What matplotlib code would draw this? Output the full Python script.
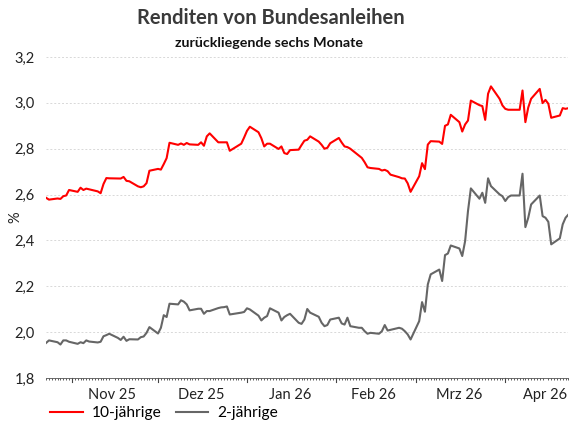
import matplotlib

matplotlib.use("Agg")
import matplotlib.dates as mdates
import matplotlib.pyplot as plt
import matplotlib.ticker as mticker
import pandas as pd

# business days, 23 Oct 2025 .. 23 Apr 2026
dates = pd.bdate_range("2025-10-23", "2026-04-23")

yield_10y = [
    2.586, 2.578, 2.583, 2.581, 2.593, 2.596, 2.620, 2.612, 2.630, 2.620,
    2.626, 2.623, 2.614, 2.606, 2.646, 2.672, 2.671, 2.670, 2.670, 2.677,
    2.660, 2.658, 2.636, 2.632, 2.636, 2.650, 2.704, 2.712, 2.709, 2.733,
    2.759, 2.826, 2.817, 2.823, 2.817, 2.825, 2.819, 2.817, 2.828, 2.813,
    2.854, 2.867, 2.828, 2.828, 2.828, 2.828, 2.791, 2.814, 2.822, 2.849,
    2.878, 2.896, 2.872, 2.846, 2.810, 2.822, 2.822, 2.799, 2.810, 2.781,
    2.777, 2.794, 2.796, 2.816, 2.835, 2.839, 2.854,
    2.831, 2.817, 2.800, 2.804, 2.824, 2.847, 2.827, 2.810, 2.807, 2.800,
    2.770, 2.760, 2.741, 2.719, 2.716, 2.712, 2.705, 2.708, 2.702, 2.687,
    2.676, 2.671, 2.670, 2.649, 2.612, 2.680, 2.737, 2.711, 2.818, 2.833,
    2.831, 2.821, 2.900, 2.906, 2.948, 2.916, 2.875, 2.906, 2.923, 3.010,
    2.990, 2.986, 2.926, 3.040, 3.072, 3.018, 2.989, 2.974, 2.970, 2.970,
    2.970, 3.054, 2.916, 2.980, 3.018, 3.061, 2.999, 3.013, 2.996, 2.935,
    2.945, 2.977, 2.974, 2.977,
]

yield_2y = [
    1.953, 1.964, 1.956, 1.946, 1.964, 1.964, 1.958, 1.949, 1.956, 1.952,
    1.964, 1.959, 1.955, 1.958, 1.982, 1.987, 1.993, 1.975, 1.966, 1.980,
    1.962, 1.969, 1.968, 1.978, 1.981, 1.997, 2.022, 1.994, 2.019, 2.074,
    2.066, 2.124, 2.121, 2.139, 2.133, 2.121, 2.095, 2.102, 2.102, 2.080,
    2.092, 2.092, 2.105, 2.108, 2.109, 2.112, 2.077, 2.083, 2.085, 2.088,
    2.104, 2.099, 2.072, 2.051, 2.063, 2.070, 2.104, 2.085, 2.051, 2.066,
    2.074, 2.080, 2.041, 2.036, 2.055, 2.101, 2.085,
    2.067, 2.041, 2.026, 2.031, 2.055, 2.063, 2.038, 2.033, 2.063, 2.026,
    2.019, 2.019, 2.004, 1.993, 1.997, 1.993, 2.004, 2.031, 2.007, 2.010,
    2.019, 2.015, 2.004, 1.990, 1.968, 2.048, 2.131, 2.089, 2.208, 2.252,
    2.273, 2.223, 2.336, 2.343, 2.378, 2.365, 2.332, 2.397, 2.528, 2.627,
    2.582, 2.608, 2.564, 2.671, 2.637, 2.601, 2.593, 2.572, 2.589, 2.596,
    2.596, 2.691, 2.458, 2.499, 2.557, 2.596, 2.506, 2.499, 2.481, 2.383,
    2.409, 2.470, 2.499, 2.513,
]

series_labels = ["10-jährige", "2-jährige"]
month_labels = ["Nov 25", "Dez 25", "Jan 26", "Feb 26", "Mrz 26", "Apr 26"]
label_dates = pd.to_datetime(
    ["2025-11-15", "2025-12-16", "2026-01-16", "2026-02-14", "2026-03-16", "2026-04-15"]
)

plt.rcParams["font.family"] = ["Lato", "DejaVu Sans"]

fig = plt.figure(figsize=(5.69, 4.24), dpi=100)
ax = fig.add_axes([0.081, 0.1085, 0.918, 0.757])

ax.plot(dates, yield_10y, color="#ff0000", lw=1.5, label=series_labels[0])
ax.plot(dates, yield_2y, color="#666666", lw=1.5, label=series_labels[1])

ax.set_xlim(dates[0], dates[-1])
ax.set_ylim(1.8, 3.2)
ax.yaxis.set_major_locator(mticker.MultipleLocator(0.2))
ax.yaxis.set_major_formatter(
    mticker.FuncFormatter(lambda v, _: f"{v:.1f}".replace(".", ","))
)
ax.grid(axis="y", color="#d8d8d8", linestyle=(0, (2, 2)), linewidth=0.7)
ax.set_axisbelow(True)

# month starts as ticks, labels centred in the month
ax.xaxis.set_major_locator(mticker.FixedLocator(mdates.date2num(label_dates)))
ax.xaxis.set_major_formatter(mticker.FixedFormatter(month_labels))
ax.xaxis.set_minor_locator(mdates.DayLocator())
ax.tick_params(axis="x", which="major", length=0, pad=7, labelsize=10.5, colors="#222222")
ax.tick_params(axis="x", which="minor", length=1.5, width=0.6, color="#444444")
for m in pd.date_range("2025-11-01", "2026-04-01", freq="MS"):
    ax.plot([m, m], [0, -0.012], transform=ax.get_xaxis_transform(),
            color="#444444", lw=0.8, clip_on=False)
ax.tick_params(axis="y", length=0, pad=8, labelsize=10.5, colors="#222222")

for side in ("top", "right", "left"):
    ax.spines[side].set_visible(False)
ax.spines["bottom"].set_color("#555555")
ax.spines["bottom"].set_linewidth(0.6)
ax.spines["bottom"].set_linestyle((0, (1, 1)))

fig.text(15 / 569, 1 - 217 / 424, "%", rotation=90, ha="center", va="center",
         fontsize=10.5, color="#222222")

fig.text(0.476, 0.957, "Renditen von Bundesanleihen", ha="center", va="center",
         fontsize=14.5, fontweight="bold", color="#3a3a3a")
fig.text(0.472, 0.898, "zurückliegende sechs Monate", ha="center", va="center",
         fontsize=10.3, fontweight="bold", color="#111111")

fig.legend(loc="center left", bbox_to_anchor=(50 / 569, 1 - 413 / 424), ncol=2,
           frameon=False, borderpad=0, borderaxespad=0, fontsize=11.2,
           handlelength=2.1, columnspacing=0.9, handletextpad=0.6)

fig.savefig("out.png", dpi=100)
